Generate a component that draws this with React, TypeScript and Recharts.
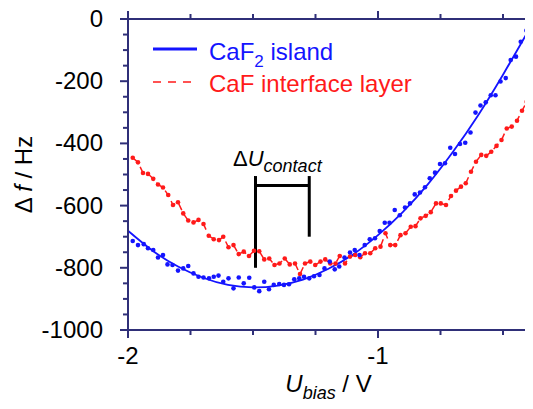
import {
  ComposedChart,
  Legend,
  Line,
  ReferenceLine,
  Scatter,
  XAxis,
  YAxis,
} from 'recharts'

const AXIS = '#2f2f78'
const BLUE = '#1414ff'
const RED = '#ff1a1a'
const FONT = '"Liberation Sans", Arial, Helvetica, sans-serif'

const W = 525
const H = 401
const PLOT = { left: 120, top: 11, right: 4, bottom: 79 }
const PLOT_W = W - PLOT.left - PLOT.right
const PLOT_H = H - PLOT.top - PLOT.bottom

const X_MIN = -2
const X_MAX = -0.396
const Y_MIN = -1000
const Y_MAX = 0
const X_TICKS = [-2, -1.75, -1.5, -1.25, -1, -0.75, -0.5]
const Y_TICKS = [
  0, -50, -100, -150, -200, -250, -300, -350, -400, -450, -500, -550, -600,
  -650, -700, -750, -800, -850, -900, -950, -1000,
]

// CaF2 island: measured points
const BLUE_X = [
  -1.981, -1.96, -1.937, -1.92, -1.899, -1.88, -1.86, -1.842, -1.822, -1.8,
  -1.779, -1.759, -1.738, -1.718, -1.698, -1.676, -1.657, -1.638, -1.619,
  -1.598, -1.578, -1.557, -1.537, -1.515, -1.495, -1.475, -1.455, -1.436,
  -1.417, -1.395, -1.376, -1.356, -1.335, -1.315, -1.296, -1.275, -1.256,
  -1.234, -1.214, -1.193, -1.173, -1.155, -1.134, -1.112, -1.093, -1.074,
  -1.053, -1.033, -1.012, -0.993, -0.973, -0.954, -0.933, -0.913, -0.892,
  -0.872, -0.853, -0.832, -0.812, -0.793, -0.772, -0.752, -0.732, -0.711,
  -0.692, -0.672, -0.651, -0.63, -0.61, -0.59, -0.569, -0.549, -0.53, -0.51,
  -0.489, -0.469, -0.448, -0.429, -0.406,
]
const BLUE_Y = [
  -714, -727, -724, -737, -743, -767, -759, -789, -791, -809, -802, -794, -818,
  -829, -831, -834, -829, -825, -845, -834, -866, -831, -850, -832, -863, -875,
  -845, -869, -855, -852, -855, -853, -837, -834, -829, -834, -827, -823, -802,
  -780, -805, -796, -767, -751, -743, -759, -727, -708, -705, -682, -655, -655,
  -614, -631, -606, -593, -564, -558, -541, -512, -494, -466, -464, -414, -434,
  -402, -398, -365, -301, -278, -268, -245, -245, -201, -190, -132, -121, -73,
  -37,
]

// CaF2 island: fitted curve
const FIT_X = [
  -2, -1.9, -1.8, -1.7, -1.6, -1.5, -1.4, -1.3, -1.2, -1.1, -1, -0.9, -0.8,
  -0.7, -0.6, -0.5, -0.396,
]
const FIT_Y = [
  -681, -746, -796, -832, -855, -863, -857, -838, -804, -757, -695, -620, -531,
  -427, -310, -179, -34,
]

// CaF interface layer
const RED_X = [
  -1.981, -1.96, -1.94, -1.92, -1.899, -1.88, -1.86, -1.839, -1.82, -1.8,
  -1.779, -1.759, -1.738, -1.718, -1.698, -1.677, -1.657, -1.636, -1.619,
  -1.598, -1.578, -1.557, -1.537, -1.516, -1.496, -1.475, -1.455, -1.435,
  -1.414, -1.394, -1.373, -1.353, -1.332, -1.312, -1.292, -1.271, -1.251,
  -1.23, -1.211, -1.191, -1.17, -1.153, -1.132, -1.112, -1.091, -1.071,
  -1.052, -1.031, -1.011, -0.99, -0.97, -0.951, -0.931, -0.91, -0.89, -0.869,
  -0.85, -0.83, -0.809, -0.789, -0.768, -0.749, -0.728, -0.708, -0.688,
  -0.668, -0.649, -0.628, -0.608, -0.587, -0.567, -0.547, -0.526, -0.506,
  -0.485, -0.465, -0.444, -0.424, -0.405,
]
const RED_Y = [
  -446, -461, -495, -498, -514, -532, -542, -566, -598, -589, -625, -648, -654,
  -646, -659, -697, -708, -711, -700, -734, -727, -756, -748, -762, -745, -747,
  -773, -770, -791, -786, -770, -789, -786, -820, -786, -780, -791, -780, -773,
  -786, -786, -762, -786, -764, -759, -766, -753, -753, -737, -732, -689, -727,
  -727, -695, -689, -668, -666, -641, -633, -621, -593, -593, -598, -569, -552,
  -539, -528, -491, -459, -437, -440, -427, -408, -389, -352, -346, -327, -295,
  -266,
]

const blueData = BLUE_X.map((x, i) => ({ x, y: BLUE_Y[i] }))
const fitData = FIT_X.map((x, i) => ({ x, y: FIT_Y[i] }))
const redData = RED_X.map((x, i) => ({ x, y: RED_Y[i] }))
const annotation = [{ x: -1.58, y: -473 }]

const isMajorX = (v: number) => Number.isInteger(v)
const isMajorY = (v: number) => v % 200 === 0

function BottomTick({ x, y, payload }: any) {
  const major = isMajorX(payload.value)
  return (
    <g>
      <line x1={x} x2={x} y1={y} y2={y + (major ? 8 : 5)} stroke={AXIS} strokeWidth={2} />
      {major && (
        <text x={x} y={y + 34} textAnchor="middle" fontSize={24} fontFamily={FONT} fill="#000">
          {payload.value}
        </text>
      )}
    </g>
  )
}

function LeftTick({ x, y, payload }: any) {
  const major = isMajorY(payload.value)
  return (
    <g>
      <line x1={x} x2={x - (major ? 8 : 5)} y1={y} y2={y} stroke={AXIS} strokeWidth={2} />
      {major && (
        <text x={x - 25} y={y + 8} textAnchor="end" fontSize={24} fontFamily={FONT} fill="#000">
          {payload.value}
        </text>
      )}
    </g>
  )
}

function LegendBox() {
  return (
    <svg width={320} height={70} style={{ display: 'block' }}>
      <line x1={5} x2={49} y1={21} y2={21} stroke={BLUE} strokeWidth={3} />
      <text x={61} y={32} fontSize={24} fontFamily={FONT} fill={BLUE}>
        CaF<tspan fontSize={17} dy={7}>2</tspan>
        <tspan dy={-7}> island</tspan>
      </text>
      <line x1={5} x2={49} y1={54} y2={54} stroke={RED} strokeWidth={1.5} strokeDasharray="8 7" />
      <text x={61} y={64} fontSize={24} fontFamily={FONT} fill={RED}>
        CaF interface layer
      </text>
    </svg>
  )
}

function AnnotationText({ cx, cy }: any) {
  return (
    <text x={cx} y={cy} fontSize={22} fontFamily={FONT} fill="#000">
      Δ<tspan fontStyle="italic">U</tspan>
      <tspan fontStyle="italic" fontSize={18} dy={6}>contact</tspan>
    </text>
  )
}

// top and right edges of the box with their outward ticks
function Frame() {
  const right = PLOT.left + PLOT_W
  const bottom = PLOT.top + PLOT_H
  const px = (t: number) => PLOT.left + ((t - X_MIN) / (X_MAX - X_MIN)) * PLOT_W
  const py = (v: number) => PLOT.top + ((Y_MAX - v) / (Y_MAX - Y_MIN)) * PLOT_H
  return (
    <svg
      width={W}
      height={H}
      style={{ position: 'absolute', left: 0, top: 0, zIndex: 2, pointerEvents: 'none', overflow: 'visible' }}
    >
      <path
        d={`M${PLOT.left},${PLOT.top} H${right} V${bottom}`}
        fill="none"
        stroke={AXIS}
        strokeWidth={2}
      />
      {X_TICKS.map((t) => (
        <line
          key={`t${t}`}
          x1={px(t)}
          x2={px(t)}
          y1={PLOT.top}
          y2={PLOT.top - (isMajorX(t) ? 8 : 5)}
          stroke={AXIS}
          strokeWidth={2}
        />
      ))}
      {Y_TICKS.map((v) => (
        <line
          key={`r${v}`}
          x1={right}
          x2={right + (isMajorY(v) ? 8 : 5)}
          y1={py(v)}
          y2={py(v)}
          stroke={AXIS}
          strokeWidth={2}
        />
      ))}
    </svg>
  )
}

export default function App() {
  return (
    <div style={{ position: 'relative', width: W, height: H }}>
      <ComposedChart
        width={W}
        height={H}
        margin={{ top: PLOT.top, right: PLOT.right, bottom: 0, left: 0 }}
      >
        <XAxis
          xAxisId="b"
          type="number"
          dataKey="x"
          domain={[X_MIN, X_MAX]}
          ticks={X_TICKS}
          interval={0}
          tickSize={0}
          tickMargin={0}
          tickLine={false}
          tick={<BottomTick />}
          height={PLOT.bottom}
          axisLine={{ stroke: AXIS, strokeWidth: 2 }}
          label={{
            content: ({ viewBox }: any) => (
              <text
                x={viewBox.x + viewBox.width / 2}
                y={viewBox.y + 62}
                textAnchor="middle"
                fontSize={24}
                fontFamily={FONT}
                fill="#000"
              >
                <tspan fontStyle="italic">U</tspan>
                <tspan fontStyle="italic" fontSize={18} dy={7}>bias</tspan>
                <tspan dy={-7}> / V</tspan>
              </text>
            ),
          }}
        />
        <YAxis
          yAxisId="l"
          type="number"
          domain={[Y_MIN, Y_MAX]}
          ticks={Y_TICKS}
          interval={0}
          tickSize={0}
          tickMargin={0}
          tickLine={false}
          tick={<LeftTick />}
          width={PLOT.left}
          axisLine={{ stroke: AXIS, strokeWidth: 2 }}
          label={{
            content: ({ viewBox }: any) => {
              const cx = viewBox.x + 15
              const cy = viewBox.y + viewBox.height / 2
              return (
                <text
                  x={cx}
                  y={cy}
                  transform={`rotate(-90 ${cx} ${cy})`}
                  textAnchor="middle"
                  dominantBaseline="central"
                  fontSize={24}
                  fontFamily={FONT}
                  fill="#000"
                >
                  Δ <tspan fontStyle="italic">f</tspan> / Hz
                </text>
              )
            },
          }}
        />

        <Line
          xAxisId="b"
          yAxisId="l"
          data={redData}
          dataKey="y"
          type="linear"
          stroke={RED}
          strokeWidth={1.5}
          strokeDasharray="7 5"
          dot={false}
          activeDot={false}
          isAnimationActive={false}
        />
        <Line
          xAxisId="b"
          yAxisId="l"
          data={fitData}
          dataKey="y"
          type="natural"
          stroke={BLUE}
          strokeWidth={1.8}
          dot={false}
          activeDot={false}
          isAnimationActive={false}
        />
        <Scatter
          xAxisId="b"
          yAxisId="l"
          data={redData}
          dataKey="y"
          fill={RED}
          shape={(p: any) => <circle cx={p.cx} cy={p.cy} r={2.3} fill={RED} />}
          isAnimationActive={false}
        />
        <Scatter
          xAxisId="b"
          yAxisId="l"
          data={blueData}
          dataKey="y"
          fill={BLUE}
          shape={(p: any) => <circle cx={p.cx} cy={p.cy} r={2.3} fill={BLUE} />}
          isAnimationActive={false}
        />

        <ReferenceLine
          xAxisId="b"
          yAxisId="l"
          segment={[{ x: -1.49, y: -505 }, { x: -1.49, y: -800 }]}
          stroke="#000"
          strokeWidth={3}
        />
        <ReferenceLine
          xAxisId="b"
          yAxisId="l"
          segment={[{ x: -1.275, y: -505 }, { x: -1.275, y: -700 }]}
          stroke="#000"
          strokeWidth={3}
        />
        <ReferenceLine
          xAxisId="b"
          yAxisId="l"
          segment={[{ x: -1.49, y: -535 }, { x: -1.275, y: -535 }]}
          stroke="#000"
          strokeWidth={3}
        />
        <Scatter
          xAxisId="b"
          yAxisId="l"
          data={annotation}
          dataKey="y"
          shape={(p: any) => <AnnotationText cx={p.cx} cy={p.cy} />}
          isAnimationActive={false}
        />

        <Legend
          layout="vertical"
          align="center"
          verticalAlign="middle"
          content={() => <LegendBox />}
          wrapperStyle={{ top: 20, left: 140, width: 320 }}
        />
      </ComposedChart>
      <Frame />
    </div>
  )
}
